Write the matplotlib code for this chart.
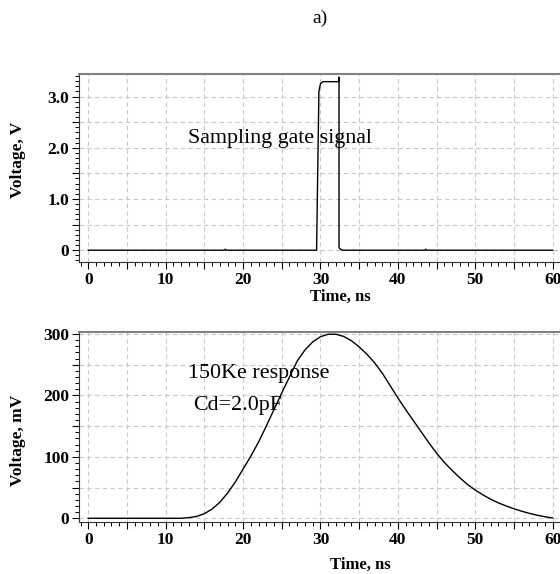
import matplotlib
matplotlib.use("Agg")
import matplotlib.pyplot as plt
from matplotlib.ticker import MultipleLocator, FuncFormatter

# gate pulse (V) vs time (ns)
gate_t = [0, 17.6, 17.7, 17.8, 29.5, 29.8, 30.0, 30.3, 32.35, 32.4, 32.4, 32.5, 32.8, 43.5, 43.6, 43.7, 60]
gate_v = [0, 0, 0.02, 0, 0, 3.1, 3.25, 3.29, 3.29, 3.38, 0.05, 0.03, 0, 0, 0.02, 0, 0]

# detector response (mV) vs time (ns)
resp_t = [0, 12, 13, 14, 15, 16, 17, 18, 19, 20, 21, 22, 23, 24, 25, 26, 27, 28, 29, 30,
          31, 32, 33, 34, 35, 36, 37, 38, 39, 40, 41, 42, 43, 44, 45, 46, 47, 48, 49, 50,
          51, 52, 53, 54, 55, 56, 57, 58, 59, 60]
resp_v = [0, 0, 1, 3, 7.5, 15, 26, 41, 59, 80, 101, 124, 150, 177, 204, 230, 256, 274, 287, 295.5,
          299.5, 299.5, 296, 289, 279, 267, 253, 236, 216, 196, 177, 159, 141, 123, 106, 91, 78, 66, 55, 46,
          38, 31, 25, 20, 15.5, 11.5, 8, 5, 2.5, 0.5]

plt.rcParams['font.family'] = ['Liberation Serif', 'DejaVu Serif']

fig = plt.figure(figsize=(5.6, 5.74), dpi=100)


def style(ax, ymaj, ymin, fmt):
    ax.xaxis.set_major_locator(MultipleLocator(5))
    ax.xaxis.set_minor_locator(MultipleLocator(1))
    ax.yaxis.set_major_locator(MultipleLocator(ymaj))
    ax.yaxis.set_minor_locator(MultipleLocator(ymin))
    ax.xaxis.set_major_formatter(FuncFormatter(lambda v, p: "%d" % v if abs(v % 10) < 1e-6 else ""))
    ax.yaxis.set_major_formatter(FuncFormatter(fmt))
    ax.grid(True, which='major', color='#c8c8c8', linestyle=(0, (4, 3)), linewidth=0.8)
    ax.tick_params(which='major', direction='out', length=5, width=0.8, pad=2, labelsize=12.5)
    ax.tick_params(which='minor', direction='out', length=3, width=0.7)
    ax.tick_params(top=False, right=False)
    for lab in ax.get_xticklabels() + ax.get_yticklabels():
        lab.set_fontweight('bold')
    ax.spines['top'].set_color('#808080')
    ax.spines['top'].set_linewidth(1.5)
    ax.spines['right'].set_visible(False)
    ax.spines['left'].set_color('#333333')
    ax.spines['bottom'].set_color('#333333')


def fmt_v(v, p):
    if abs(v) < 1e-6:
        return "0"
    if abs(v % 1) < 1e-6:
        return "%.1f" % v
    return ""


def fmt_mv(v, p):
    if abs(v % 100) < 1e-6:
        return "%d" % v
    return ""


ax1 = fig.add_axes([0.141, 0.5436, 0.868, 0.3275])
ax1.plot(gate_t, gate_v, color='black', linewidth=1.0)
ax1.set_xlim(-1.2, 61.6)
ax1.set_ylim(-0.23, 3.44)
style(ax1, 0.5, 0.1, fmt_v)
ax1.text(12.9, 2.19, "Sampling gate signal", fontsize=15.8, va='center', ha='left')

ax2 = fig.add_axes([0.141, 0.090, 0.868, 0.331])
ax2.plot(resp_t, resp_v, color='black', linewidth=1.0)
ax2.set_xlim(-1.2, 61.6)
ax2.set_ylim(-6.6, 302.6)
style(ax2, 50, 10, fmt_mv)
ax2.text(12.9, 235, "150Ke response", fontsize=15.8, va='center', ha='left')
ax2.text(13.6, 183, "Cd=2.0pF", fontsize=15.8, va='center', ha='left')

fig.text(320 / 560, 1 - 18 / 574, "a)", fontsize=14, ha='center', va='center')
fig.text(18 / 560, 1 - 160 / 574, "Voltage, V", fontsize=12.5, fontweight='bold',
         rotation=90, ha='center', va='center')
fig.text(18 / 560, 1 - 440 / 574, "Voltage, mV", fontsize=12.5, fontweight='bold',
         rotation=90, ha='center', va='center')
fig.text(340 / 560, 1 - 297 / 574, "Time, ns", fontsize=12, fontweight='bold',
         ha='center', va='center')
fig.text(360 / 560, 1 - 565 / 574, "Time, ns", fontsize=12, fontweight='bold',
         ha='center', va='center')

fig.savefig("out.png", dpi=100)
